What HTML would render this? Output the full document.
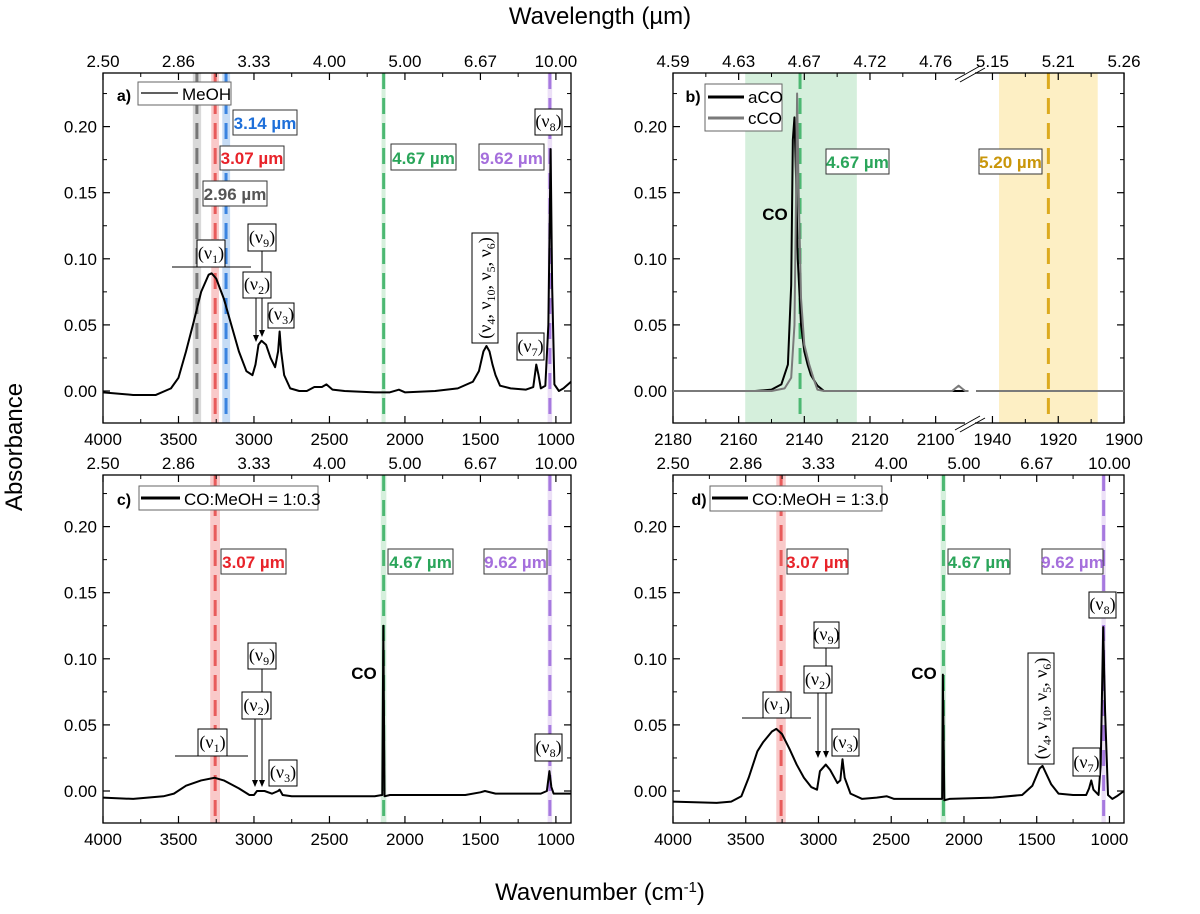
<!DOCTYPE html>
<html><head><meta charset="utf-8"><style>
body{margin:0;background:#fff}
svg{display:block;font-family:"Liberation Sans",sans-serif}
.nu{font-family:"Liberation Serif",serif;font-size:18px}
</style></head><body>
<svg id="fig" width="1200" height="914" viewBox="0 0 1200 914" xmlns="http://www.w3.org/2000/svg">
<text x="600" y="24" text-anchor="middle" font-size="24">Wavelength (µm)</text>
<text transform="translate(22,447) rotate(-90)" text-anchor="middle" font-size="24">Absorbance</text>
<text x="600" y="900" text-anchor="middle" font-size="24">Wavenumber (cm<tspan baseline-shift="super" font-size="15">-1</tspan>)</text>
</svg>
<script>
// ---- data ----
const wnA = [4000,3800,3650,3550,3500,3450,3400,3350,3300,3280,3250,3200,3150,3100,3050,3010,2990,2970,2950,2920,2890,2860,2840,2830,2820,2800,2760,2700,2650,2600,2550,2520,2480,2400,2200,2100,2040,2000,1800,1650,1550,1510,1480,1460,1440,1420,1400,1370,1300,1200,1150,1130,1115,1100,1070,1050,1035,1025,1010,980,950,900];
const absA = [-0.001,-0.003,-0.003,0.002,0.010,0.030,0.052,0.075,0.088,0.089,0.085,0.070,0.050,0.030,0.015,0.012,0.020,0.035,0.038,0.035,0.025,0.018,0.030,0.045,0.030,0.012,0.002,0.000,0.000,0.003,0.003,0.005,0.001,0.000,-0.001,-0.001,0.001,-0.001,0.000,0.002,0.007,0.015,0.030,0.034,0.030,0.020,0.012,0.004,0.002,0.001,0.003,0.020,0.012,0.002,0.004,0.050,0.183,0.080,0.005,0.000,0.002,0.007];
const wnC = [4000,3800,3600,3530,3450,3350,3260,3200,3100,3030,3000,2980,2960,2930,2880,2840,2830,2810,2750,2500,2200,2150,2143,2135,2100,1600,1500,1470,1400,1100,1060,1043,1030,1015,900];
const absC = [-0.005,-0.006,-0.004,-0.002,0.004,0.008,0.010,0.008,0.002,-0.003,-0.003,0.000,0.000,0.000,-0.002,0.000,0.001,-0.003,-0.004,-0.004,-0.004,-0.003,0.125,-0.004,-0.003,-0.003,-0.001,0.000,-0.002,-0.002,0.000,0.015,0.003,-0.002,-0.002];
const wnD = [4000,3700,3600,3530,3480,3420,3380,3320,3290,3250,3200,3150,3100,3050,3010,2990,2950,2920,2870,2850,2835,2820,2780,2700,2600,2530,2480,2300,2150,2145,2135,2100,1800,1600,1530,1480,1460,1430,1400,1350,1250,1160,1140,1125,1110,1075,1060,1043,1030,1010,980,950,900];
const absD = [-0.008,-0.009,-0.008,-0.004,0.010,0.030,0.037,0.045,0.047,0.043,0.032,0.020,0.010,0.003,0.001,0.015,0.020,0.016,0.006,0.008,0.024,0.010,-0.002,-0.006,-0.005,-0.004,-0.006,-0.006,-0.006,0.088,-0.007,-0.006,-0.005,-0.003,0.004,0.017,0.019,0.012,0.005,-0.002,-0.003,-0.003,0.002,0.008,0.001,-0.003,0.020,0.124,0.060,-0.003,-0.006,-0.004,0.000];
const wnB_a = [2180,2155,2150,2147,2145,2144,2143.5,2143,2142.5,2142,2141,2140,2139,2138,2136,2134,2090];
const absB_a = [0,0,0.001,0.005,0.020,0.080,0.190,0.207,0.160,0.100,0.050,0.030,0.020,0.012,0.004,0,0];
const wnB_c = [2180,2150,2146,2144,2143,2142.5,2142.2,2141.8,2141,2140,2138.5,2137,2136,2134,2095,2093,2092,2091,2090];
const absB_c = [0,0,0.002,0.010,0.050,0.150,0.225,0.160,0.070,0.035,0.020,0.008,0.001,0,0,0.004,0.002,0,0];
const wnB_right = [1945,1900];
const absB_right = [0,0];
const fullTicks = [4000,3500,3000,2500,2000,1500,1000];
const fullTop = ["2.50","2.86","3.33","4.00","5.00","6.67","10.00"];
const bTicks = [2180,2160,2140,2120,2100,1940,1920,1900];
const bTop = ["4.59","4.63","4.67","4.72","4.76","5.15","5.21","5.26"];
const yTicks = [0,0.05,0.10,0.15,0.20];

const svg = document.getElementById('fig');
const NS = 'http://www.w3.org/2000/svg';
function mk(tag, attrs, name, parent){
  const el = document.createElementNS(NS, tag);
  for (const k in attrs) el.setAttribute(k, attrs[k]);
  
  
  (parent||svg).appendChild(el);
  return el;
}
function txt(x,y,s,name,opt){
  opt = opt||{};
  const t = mk('text',{x:x,y:y,'font-size':opt.size||17,'text-anchor':opt.anchor||'middle','fill':opt.fill||'#000','font-weight':opt.bold?'bold':'normal'},name);
  t.textContent = s;
  return t;
}
function nuBox(x1,y1,x2,y2,sub,name){
  mk('rect',{x:x1,y:y1,width:x2-x1,height:y2-y1,fill:'#fff',stroke:'#000','stroke-width':1},name+'-box');
  const t = mk('text',{x:(x1+x2)/2,y:y2-8,'text-anchor':'middle',class:'nu'},name);
  t.innerHTML = '(ν<tspan font-size="12" dy="4">'+sub+'</tspan><tspan dy="-4">)</tspan>';
}
function nuRot(x1,y1,x2,y2,name){
  mk('rect',{x:x1,y:y1,width:x2-x1,height:y2-y1,fill:'#fff',stroke:'#000','stroke-width':1},name+'-box');
  const cx=(x1+x2)/2+6, cy=(y1+y2)/2;
  const t = mk('text',{transform:'translate('+cx+','+cy+') rotate(-90)','text-anchor':'middle',class:'nu'},name);
  t.innerHTML = '(ν<tspan font-size="12" dy="4">4</tspan><tspan dy="-4">, ν</tspan><tspan font-size="12" dy="4">10</tspan><tspan dy="-4">, ν</tspan><tspan font-size="12" dy="4">5</tspan><tspan dy="-4">, ν</tspan><tspan font-size="12" dy="4">6</tspan><tspan dy="-4">)</tspan>';
}
function umBox(x1,y1,x2,y2,s,col,name){
  mk('rect',{x:x1,y:y1,width:x2-x1,height:y2-y1,fill:'#fff',stroke:'#333','stroke-width':1},name+'-box');
  txt((x1+x2)/2,y2-6,s,name,{size:17,bold:true,fill:col});
}
function arrow(x,y1,y2,name){
  mk('line',{x1:x,y1:y1,x2:x,y2:y2-6,stroke:'#000','stroke-width':1},name);
  mk('path',{d:'M'+(x-3)+','+(y2-7)+' L'+(x+3)+','+(y2-7)+' L'+x+','+y2+' Z',fill:'#000'},name+'-head');
}

function panel(P){
  const L=P.x0,R=P.x1,T=P.y0,B=P.y1;
  const ys = v => P.yzero - v*P.ppu;
  P.bands.forEach(b=>{
    const xa=P.xs(b.a), xb=P.xs(b.b);
    mk('rect',{x:Math.min(xa,xb),y:T,width:Math.abs(xb-xa),height:B-T,fill:b.fill,opacity:b.op||1},b.name+'-band');
    if(b.line!==undefined){
      mk('line',{x1:P.xs(b.line),x2:P.xs(b.line),y1:T,y2:B,stroke:b.col,'stroke-width':3,'stroke-dasharray':'16,9'},b.name+'-line');
    }
  });
  mk('rect',{x:L,y:T,width:R-L,height:B-T,fill:'none',stroke:'#000','stroke-width':1.3},P.id+'-frame');
  yTicks.forEach(v=>{
    const y=ys(v);
    mk('line',{x1:L,x2:L+7,y1:y,y2:y,stroke:'#000','stroke-width':1.2},P.id+'-ytick');
    mk('line',{x1:R,x2:R-7,y1:y,y2:y,stroke:'#000','stroke-width':1.2},P.id+'-ytick-right');
    txt(L-6,y+6,v.toFixed(2),P.id+'-ytick-label',{size:17,anchor:'end'});
    const ym=ys(v+0.025);
    if(ym>T){
      mk('line',{x1:L,x2:L+4,y1:ym,y2:ym,stroke:'#000'},P.id+'-ytick-minor');
      mk('line',{x1:R,x2:R-4,y1:ym,y2:ym,stroke:'#000'},P.id+'-ytick-minor-right');
    }
  });
  P.ticks.forEach((w,i)=>{
    const x=P.xs(w);
    mk('line',{x1:x,x2:x,y1:B,y2:B-7,stroke:'#000','stroke-width':1.2},P.id+'-xtick');
    mk('line',{x1:x,x2:x,y1:T,y2:T+7,stroke:'#000','stroke-width':1.2},P.id+'-xtick-top');
    txt(x,B+22,String(w),P.id+'-xtick-label',{size:17});
    txt(x,T-6,P.top[i],P.id+'-top-tick-label',{size:17});
  });
  P.minor.forEach(w=>{
    const x=P.xs(w);
    mk('line',{x1:x,x2:x,y1:B,y2:B-4,stroke:'#000'},P.id+'-xtick-minor');
    mk('line',{x1:x,x2:x,y1:T,y2:T+4,stroke:'#000'},P.id+'-xtick-minor-top');
  });
  P.series.forEach(s=>{
    let d='';
    s.wn.forEach((w,i)=>{ d+=(i?'L':'M')+P.xs(w).toFixed(2)+','+ys(s.ab[i]).toFixed(2); });
    mk('path',{d:d,fill:'none',stroke:s.col,'stroke-width':s.w||2,'stroke-linejoin':'round'},s.name);
  });
}

const fx = (x0,x1)=> w => x0 + (4000-w)/3100*(x1-x0);
const xsB = w => w>=2000 ? 673 + (2180-w)*3.283 : 976 + (1945-w)*3.29;

const minorFull=[3750,3250,2750,2250,1750,1250];
panel({id:'panel-a',x0:103,x1:571,y0:73,y1:423,yzero:391,ppu:1322,xs:fx(103,571),ticks:fullTicks,top:fullTop,minor:minorFull,
 bands:[
  {a:3405,b:3350,fill:'#d9d9d9',line:3378,col:'#777',name:'band-296'},
  {a:3283,b:3232,fill:'#f9c9c9',line:3257,col:'#e85b5b',name:'band-307'},
  {a:3210,b:3158,fill:'#c6dcf5',line:3185,col:'#3a84e0',name:'band-314'},
  {a:2155,b:2128,fill:'#d5efdc',line:2141,col:'#4cb872',name:'band-467'},
  {a:1055,b:1025,fill:'#ece0f7',line:1040,col:'#a679df',name:'band-962'}],
 series:[{wn:wnA,ab:absA,col:'#000',name:'meoh-spectrum',w:2}]});
panel({id:'panel-c',x0:103,x1:571,y0:475,y1:823,yzero:791,ppu:1322,xs:fx(103,571),ticks:fullTicks,top:fullTop,minor:minorFull,
 bands:[
  {a:3290,b:3225,fill:'#f9c9c9',line:3257,col:'#e85b5b',name:'band-307'},
  {a:2160,b:2123,fill:'#d5efdc',line:2141,col:'#4cb872',name:'band-467'},
  {a:1055,b:1025,fill:'#ece0f7',line:1040,col:'#a679df',name:'band-962'}],
 series:[{wn:wnC,ab:absC,col:'#000',name:'co-meoh-1-0.3-spectrum',w:2}]});
panel({id:'panel-d',x0:673,x1:1124,y0:475,y1:823,yzero:791,ppu:1322,xs:fx(673,1124),ticks:fullTicks,top:fullTop,minor:minorFull,
 bands:[
  {a:3290,b:3225,fill:'#f9c9c9',line:3257,col:'#e85b5b',name:'band-307'},
  {a:2160,b:2123,fill:'#d5efdc',line:2141,col:'#4cb872',name:'band-467'},
  {a:1055,b:1025,fill:'#ece0f7',line:1040,col:'#a679df',name:'band-962'}],
 series:[{wn:wnD,ab:absD,col:'#000',name:'co-meoh-1-3.0-spectrum',w:2}]});
panel({id:'panel-b',x0:673,x1:1124,y0:73,y1:423,yzero:391,ppu:1322,xs:xsB,ticks:bTicks,top:bTop,minor:[2170,2150,2130,2110,1930,1910],
 bands:[
  {a:2158,b:2124,fill:'#d5efdc',line:2141.3,col:'#4cb872',name:'band-467'},
  {a:1938,b:1908,fill:'#fdefc4',line:1923,col:'#dcaa1e',name:'band-520'}],
 series:[
  {wn:wnB_a,ab:absB_a,col:'#000',name:'aco-spectrum',w:2},
  {wn:wnB_c,ab:absB_c,col:'#7a7a7a',name:'cco-spectrum',w:2},
  {wn:wnB_right,ab:absB_right,col:'#7a7a7a',name:'cco-spectrum-right',w:2}]});
mk('rect',{x:965,y:70,width:10,height:6,fill:'#fff'},'axis-break-gap-top');
mk('rect',{x:965,y:420,width:10,height:6,fill:'#fff'},'axis-break-gap-bottom');
mk('path',{d:'M955,80 L980,66 M960,82 L985,68',stroke:'#000',fill:'none'},'axis-break-top');
mk('path',{d:'M955,430 L980,416 M960,432 L985,418',stroke:'#000',fill:'none'},'axis-break-bottom');

// panel a annotations
txt(124,101,'a)','panel-a-label',{size:16,bold:true});
mk('rect',{x:138,y:82,width:93,height:23,fill:'#fff',stroke:'#666'},'legend-meoh');
mk('line',{x1:141,x2:178,y1:93,y2:93,stroke:'#000','stroke-width':1.3},'legend-meoh-line');
txt(182,100,'MeOH','legend-meoh-text',{size:17,anchor:'start'});
umBox(233,110,297,135,'3.14 µm','#1e6fd9','label-314um');
umBox(220,146,284,170,'3.07 µm','#e8232a','label-307um-a');
umBox(203,181,267,206,'2.96 µm','#555','label-296um');
umBox(391,144,456,170,'4.67 µm','#2aa55a','label-467um-a');
umBox(479,144,544,170,'9.62 µm','#a56fdc','label-962um-a');
nuBox(535,109,562,135,'8','nu8-a');
mk('line',{x1:172,x2:251,y1:267,y2:267,stroke:'#000'},'nu1-bar-a');
nuBox(197,240,225,267,'1','nu1-a');
nuBox(248,224,276,251,'9','nu9-a');
arrow(262,251,337,'nu9-arrow-a');
nuBox(243,272,271,298,'2','nu2-a');
arrow(256,298,342,'nu2-arrow-a');
nuBox(268,303,294,328,'3','nu3-a');
nuRot(472,233,498,343,'nu4-10-5-6-a');
nuBox(517,333,544,360,'7','nu7-a');

// panel b annotations
txt(693,102,'b)','panel-b-label',{size:16,bold:true});
mk('rect',{x:705,y:84,width:77,height:47,fill:'#fff',stroke:'#666'},'legend-b');
mk('line',{x1:708,x2:744,y1:97,y2:97,stroke:'#000','stroke-width':3},'legend-aco-line');
txt(748,103,'aCO','legend-aco-text',{size:17,anchor:'start'});
mk('line',{x1:708,x2:744,y1:118,y2:118,stroke:'#7a7a7a','stroke-width':3},'legend-cco-line');
txt(748,124,'cCO','legend-cco-text',{size:17,anchor:'start'});
txt(775,220,'CO','co-label-b',{size:17,bold:true});
umBox(826,149,889,174,'4.67 µm','#2aa55a','label-467um-b');
umBox(979,149,1042,174,'5.20 µm','#c9960a','label-520um');

// panel c annotations
txt(124,505,'c)','panel-c-label',{size:16,bold:true});
mk('rect',{x:139,y:486,width:179,height:24,fill:'#fff',stroke:'#666'},'legend-c');
mk('line',{x1:141,x2:180,y1:498,y2:498,stroke:'#000','stroke-width':3},'legend-c-line');
txt(184,505,'CO:MeOH = 1:0.3','legend-c-text',{size:17,anchor:'start'});
umBox(221,549,286,574,'3.07 µm','#e8232a','label-307um-c');
umBox(388,549,453,574,'4.67 µm','#2aa55a','label-467um-c');
umBox(484,549,547,574,'9.62 µm','#a56fdc','label-962um-c');
txt(364,679,'CO','co-label-c',{size:17,bold:true});
nuBox(248,643,276,669,'9','nu9-c');
arrow(262,669,787,'nu9-arrow-c');
nuBox(242,692,271,719,'2','nu2-c');
arrow(255,719,787,'nu2-arrow-c');
mk('line',{x1:175,x2:248,y1:756,y2:756,stroke:'#000'},'nu1-bar-c');
nuBox(198,729,227,756,'1','nu1-c');
nuBox(269,760,297,786,'3','nu3-c');
nuBox(535,734,562,761,'8','nu8-c');

// panel d annotations
txt(699,505,'d)','panel-d-label',{size:16,bold:true});
mk('rect',{x:710,y:486,width:172,height:25,fill:'#fff',stroke:'#666'},'legend-d');
mk('line',{x1:712,x2:748,y1:498,y2:498,stroke:'#000','stroke-width':3},'legend-d-line');
txt(752,505,'CO:MeOH = 1:3.0','legend-d-text',{size:17,anchor:'start'});
umBox(787,549,848,574,'3.07 µm','#e8232a','label-307um-d');
umBox(948,549,1010,574,'4.67 µm','#2aa55a','label-467um-d');
umBox(1042,549,1103,574,'9.62 µm','#a56fdc','label-962um-d');
txt(924,679,'CO','co-label-d',{size:17,bold:true});
nuBox(814,622,839,648,'9','nu9-d');
arrow(826,648,758,'nu9-arrow-d');
nuBox(804,666,832,693,'2','nu2-d');
arrow(818,693,758,'nu2-arrow-d');
mk('line',{x1:742,x2:811,y1:718,y2:718,stroke:'#000'},'nu1-bar-d');
nuBox(763,692,791,718,'1','nu1-d');
nuBox(832,729,859,756,'3','nu3-d');
nuRot(1028,653,1054,764,'nu4-10-5-6-d');
nuBox(1073,748,1100,776,'7','nu7-d');
nuBox(1089,592,1116,618,'8','nu8-d');
</script>
</body></html>
